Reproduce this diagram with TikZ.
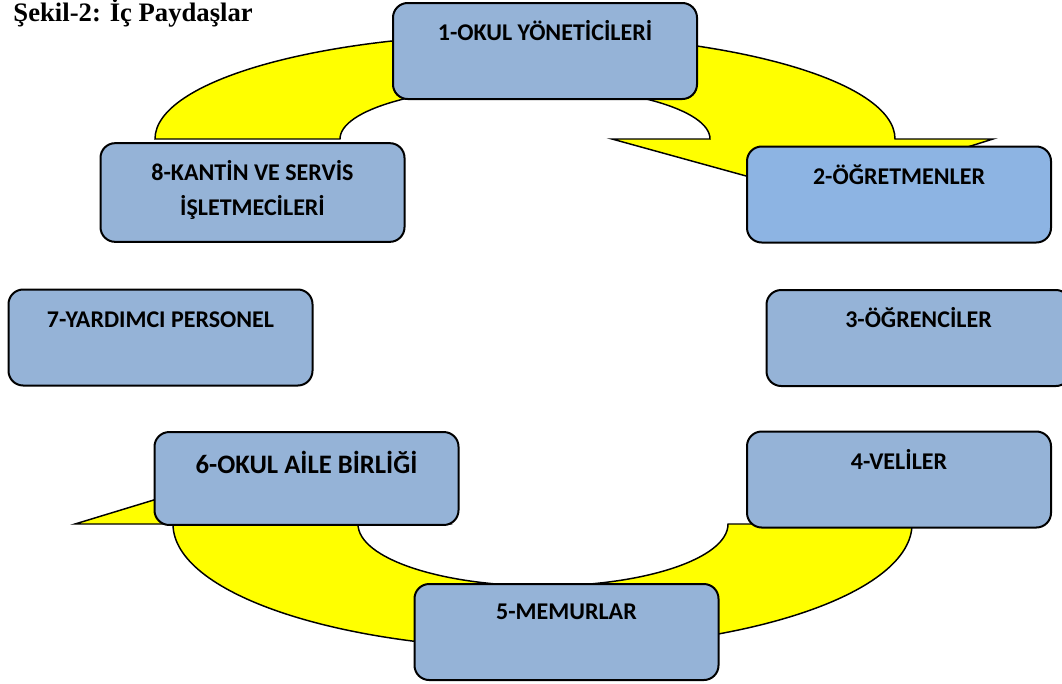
\documentclass[tikz,border=0pt]{standalone}
\usepackage{fontspec}
\newfontfamily\kutufont{Carlito}
\newfontfamily\baslikfont{Liberation Serif}
\definecolor{kutumavi}{RGB}{149,179,215}
\definecolor{kutumavi2}{RGB}{141,180,227}
\definecolor{oksari}{RGB}{255,255,0}

\tikzset{every picture/.style={line width=0.75pt}}
\tikzset{
  kutu/.style={draw=black, line width=1.5pt, fill=kutumavi, rounded corners=11pt,
    minimum width=228pt, inner sep=0pt, align=center,
    text height=28.3pt, text depth=43.7pt,
    font=\kutufont\bfseries\fontsize{18}{26.25}\selectfont},
  ok/.style={draw=black, line width=1.1pt, fill=oksari},
}

\begin{document}
\begin{tikzpicture}[x=0.75pt,y=0.75pt,yscale=-1,xscale=1]
	\useasboundingbox (0,0) rectangle (1062,683);

	%Shape: Curved Arrow (top)
	\draw [ok] (155,139) arc [start angle=180, end angle=360, x radius=370, y radius=105]
		-- (993,139) -- (815,195) -- (612,139) -- (710,139)
		arc [start angle=0, end angle=-180, x radius=185, y radius=53] -- cycle ;
	%Shape: Curved Arrow (bottom)
	\draw [ok] (912,524) arc [start angle=0, end angle=180, x radius=369.5, y radius=125]
		-- (75,524) -- (262,467) -- (448,524) -- (358,524)
		arc [start angle=180, end angle=0, x radius=185, y radius=62] -- cycle ;

	%Shape: Rounded Rect
	\node [kutu] (yonetici) at (545,51) {1-OKUL YÖNETİCİLERİ};
	\node [kutu, fill=kutumavi2] (ogretmen) at (899,194.5) {2-ÖĞRETMENLER};
	\node [kutu] (ogrenci) at (918.5,338) {3-ÖĞRENCİLER};
	\node [kutu] (veli) at (899,479.5) {4-VELİLER};
	\node [kutu, text height=26.8pt, text depth=45.2pt] (memur) at (566.5,632) {5-MEMURLAR};
	\node [kutu, text height=31.2pt, text depth=38.5pt, font=\kutufont\bfseries\fontsize{20}{24}\selectfont] (aile) at (306.5,478.5) {6-OKUL AİLE BİRLİĞİ};
	\node [kutu] (personel) at (160.5,337.5) {7-YARDIMCI PERSONEL};
	\node [kutu, text height=54.5pt, text depth=19.5pt] (kantin) at (252.5,192.5) {8-KANTİN VE SERVİS\\İŞLETMECİLERİ};

	% Text Node
	\node [anchor=base west, inner sep=0pt, font=\baslikfont\bfseries\fontsize{20}{24}\selectfont] (baslik) at (13,21) {Şekil-2: İç Paydaşlar};

\end{tikzpicture}
\end{document}
